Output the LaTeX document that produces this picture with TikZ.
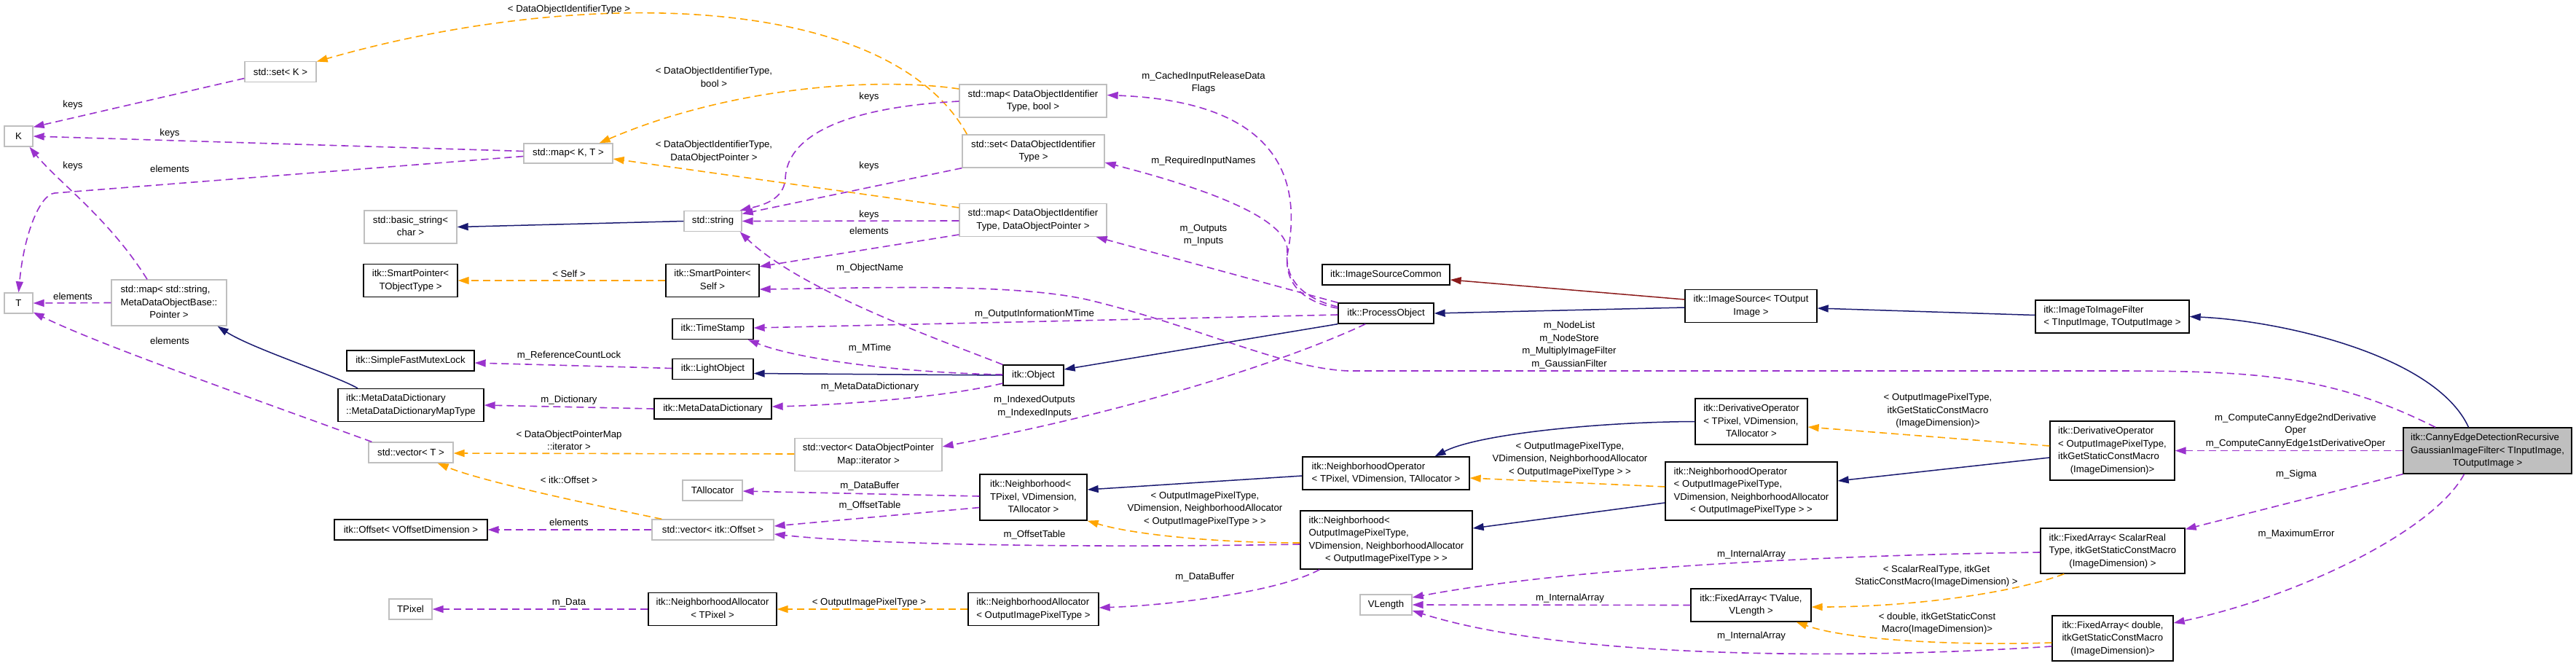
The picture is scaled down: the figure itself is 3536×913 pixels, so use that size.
\documentclass[tikz,border=0pt]{standalone}
\usepackage{fontspec}
\setmainfont{Liberation Sans}
\usepackage{xcolor}
\usepackage{tikz}
\usetikzlibrary{arrows.meta, calc}
\definecolor{inhblue}{HTML}{191970}
\definecolor{usepurple}{HTML}{9A32CD}
\definecolor{tmplorange}{HTML}{FFA500}
\definecolor{privred}{HTML}{8B1A1A}
\definecolor{grey75}{HTML}{BFBFBF}
\newcommand{\dgfont}{\fontsize{13.2pt}{17.5pt}\selectfont}
\newcommand{\clsname}[2]{\begin{tabular}{@{}l@{}}#1\\\multicolumn{1}{@{}c@{}}{#2}\end{tabular}}
\tikzstyle{docbox} = [rectangle, draw=black, line width=1.3pt, fill=white, text centered, inner sep=2pt, font=\dgfont]
\tikzstyle{extbox} = [docbox, draw=grey75]
\tikzstyle{mainbox} = [docbox, fill=grey75]
\tikzstyle{oneline} = [minimum height=28pt]
\tikzstyle{twolines} = [minimum height=45pt]
\tikzstyle{threelines} = [minimum height=63pt]
\tikzstyle{fourlines} = [minimum height=80pt]
\tikzstyle{inheritline} = [draw=inhblue, line width=1.5pt, -{Triangle[length=15pt, width=10pt]}]
\tikzstyle{privline} = [inheritline, draw=privred]
\tikzstyle{usesline} = [draw=usepurple, line width=1.6pt, dash pattern=on 10pt off 6pt, -{Triangle[length=15pt, width=10pt]}]
\tikzstyle{tmplline} = [usesline, draw=tmplorange]
\tikzstyle{lbl} = [font=\dgfont, align=center, inner sep=0pt]

\begin{document}
\begin{tikzpicture}[x=1pt, y=-1pt]
    \fill [white] (0,0) rectangle (3536,913);
    \useasboundingbox (0,0) rectangle (3536,913);

    % classes without documentation
    \node (setK) [extbox, oneline, minimum width=98pt] at (385,98.5) {std::set< K >};
    \node (K) [extbox, oneline, minimum width=39pt] at (25.5,187) {K};
    \node (mapKT) [extbox, oneline, minimum width=122pt, minimum height=27pt] at (780,210.5) {std::map< K, T >};
    \node (basicstr) [extbox, twolines, minimum width=127pt] at (563.5,311.5) {\clsname{std::basic\_string<}{char >}};
    \node (T) [extbox, oneline, minimum width=39pt] at (25.5,416) {T};
    \node (metamap) [extbox, threelines, minimum width=158pt] at (232,415.5) {\clsname{std::map< std::string,\\MetaDataObjectBase::}{Pointer >}};
    \node (vecT) [extbox, oneline, minimum width=116pt] at (564,621) {std::vector< T >};
    \node (tpixel) [extbox, oneline, minimum width=59pt] at (563.5,836) {TPixel};
    \node (map1) [extbox, twolines, minimum width=202pt] at (1418,138.5) {\clsname{std::map< DataObjectIdentifier}{Type, bool >}};
    \node (set1) [extbox, twolines, minimum width=195pt] at (1418.5,207.5) {\clsname{std::set< DataObjectIdentifier}{Type >}};
    \node (stdstr) [extbox, oneline, minimum width=79pt] at (978.5,303.5) {std::string};
    \node (map2) [extbox, twolines, minimum width=202pt] at (1418,302) {\clsname{std::map< DataObjectIdentifier}{Type, DataObjectPointer >}};
    \node (vecDOP) [extbox, twolines, minimum width=202pt] at (1192,624) {\clsname{std::vector< DataObjectPointer}{Map::iterator >}};
    \node (talloc) [extbox, oneline, minimum width=82pt] at (978,673) {TAllocator};
    \node (vecOff) [extbox, oneline, minimum width=167pt] at (978.5,727) {std::vector< itk::Offset >};
    \node (vlength) [extbox, oneline, minimum width=71pt] at (1902.5,830) {VLength};

    % documented classes
    \node (spT) [docbox, twolines, minimum width=129pt] at (563.5,385) {\clsname{itk::SmartPointer<}{TObjectType >}};
    \node (sfml) [docbox, oneline, minimum width=175pt] at (563.5,495) {itk::SimpleFastMutexLock};
    \node (mdmap) [docbox, twolines, minimum width=200pt] at (564,556) {\clsname{itk::MetaDataDictionary}{::MetaDataDictionaryMapType}};
    \node (offset) [docbox, oneline, minimum width=210pt] at (564,727) {itk::Offset< VOffsetDimension >};
    \node (spSelf) [docbox, twolines, minimum width=128pt] at (978,385) {\clsname{itk::SmartPointer<}{Self >}};
    \node (tstamp) [docbox, oneline, minimum width=111pt] at (978.5,451.5) {itk::TimeStamp};
    \node (lightobj) [docbox, oneline, minimum width=111pt] at (978.5,506.5) {itk::LightObject};
    \node (mdd) [docbox, oneline, minimum width=161pt] at (978.5,561) {itk::MetaDataDictionary};
    \node (na1) [docbox, twolines, minimum width=176pt] at (978,836) {\clsname{itk::NeighborhoodAllocator}{< TPixel >}};
    \node (object) [docbox, oneline, minimum width=83pt] at (1418.5,515) {itk::Object};
    \node (nbhd1) [docbox, threelines, minimum width=147pt] at (1418.5,682.5) {\clsname{itk::Neighborhood<\\TPixel, VDimension,}{TAllocator >}};
    \node (na2) [docbox, twolines, minimum width=179pt] at (1418.5,836) {\clsname{itk::NeighborhoodAllocator}{< OutputImagePixelType >}};
    \node (isc) [docbox, oneline, minimum width=175pt] at (1902.5,377) {itk::ImageSourceCommon};
    \node (procobj) [docbox, oneline, minimum width=131pt] at (1902.5,430) {itk::ProcessObject};
    \node (nbop1) [docbox, twolines, minimum width=229pt] at (1902.5,649.5) {\clsname{itk::NeighborhoodOperator}{< TPixel, VDimension, TAllocator >}};
    \node (nbhd2) [docbox, fourlines, minimum width=236pt] at (1903,741) {\clsname{itk::Neighborhood<\\OutputImagePixelType,\\VDimension, NeighborhoodAllocator}{< OutputImagePixelType > >}};
    \node (imgsrc) [docbox, twolines, minimum width=181pt] at (2403.5,420) {\clsname{itk::ImageSource< TOutput}{Image >}};
    \node (derivop1) [docbox, threelines, minimum width=154pt] at (2404,578.5) {\clsname{itk::DerivativeOperator\\< TPixel, VDimension,}{TAllocator >}};
    \node (nbop2) [docbox, fourlines, minimum width=236pt] at (2404,674) {\clsname{itk::NeighborhoodOperator\\< OutputImagePixelType,\\VDimension, NeighborhoodAllocator}{< OutputImagePixelType > >}};
    \node (fa1) [docbox, twolines, minimum width=165pt] at (2403.5,830.5) {\clsname{itk::FixedArray< TValue,}{VLength >}};
    \node (i2i) [docbox, twolines, minimum width=211pt] at (2899.5,434.5) {\clsname{itk::ImageToImageFilter}{< TInputImage, TOutputImage >}};
    \node (derivop2) [docbox, fourlines, minimum width=171pt, minimum height=81pt] at (2899.5,618.5) {\clsname{itk::DerivativeOperator\\< OutputImagePixelType,\\itkGetStaticConstMacro}{(ImageDimension)>}};
    \node (fa2) [docbox, threelines, minimum width=198pt, minimum height=62pt] at (2900,756) {\clsname{itk::FixedArray< ScalarReal\\Type, itkGetStaticConstMacro}{(ImageDimension) >}};
    \node (fa3) [docbox, threelines, minimum width=166pt, minimum height=62pt] at (2900,876) {\clsname{itk::FixedArray< double,\\itkGetStaticConstMacro}{(ImageDimension)>}};
    \node (main) [mainbox, threelines, minimum width=231pt] at (3414.5,618.5) {\clsname{itk::CannyEdgeDetectionRecursive\\GaussianImageFilter< TInputImage,}{TOutputImage >}};

    % inheritance
    \draw [inheritline] ($(main.north)+(-26,0)$) .. controls (3343,487) and (3130,440) .. (i2i.east);
    \draw [inheritline] ($(i2i.west)+(0,-2)$) -- ($(imgsrc.east)+(0,3)$);
    \draw [inheritline] ($(imgsrc.west)+(0,2)$) -- (procobj.east);
    \draw [privline] ($(imgsrc.west)+(0,-9)$) -- ($(isc.east)+(0,7)$);
    \draw [inheritline] (procobj.south west) -- ($(object.east)+(0,-8)$);
    \draw [inheritline] (object.west) -- ($(lightobj.east)+(0,6)$);
    \draw [inheritline] (stdstr.west) -- (basicstr.east);
    \draw [inheritline] ($(mdmap.north)+(-73,0)$) .. controls (460,515) and (345,478) .. ($(metamap.south east)+(-13,0)$);
    \draw [inheritline] ($(derivop2.west)+(0,9.5)$) -- ($(nbop2.east)+(0,-14)$);
    \draw [inheritline] (derivop1.west) .. controls (2200,579) and (2030,595) .. ($(nbop1.north)+(67,0)$);
    \draw [inheritline] ($(nbop2.west)+(0,16)$) -- ($(nbhd2.east)+(0,-16)$);
    \draw [inheritline] ($(nbop1.west)+(0,3.5)$) -- ($(nbhd1.east)+(0,-10.5)$);

    % template instances
    \draw [tmplline] ($(map1.west)+(0,-16.5)$) .. controls (1200,105) and (1000,120) .. ($(mapKT.north east)+(-19,0)$);
    \draw [tmplline] ($(set1.north west)+(7,0)$) .. controls (1220,-10) and (800,-20) .. ($(setK.east)+(0,-14)$);
    \draw [tmplline] ($(map2.west)+(0,-17)$) -- ($(mapKT.east)+(0,7.5)$);
    \draw [tmplline] (spSelf.west) -- (spT.east);
    \draw [tmplline] ($(vecDOP.west)+(0,-1)$) -- ($(vecT.east)+(0,1)$);
    \draw [tmplline] ($(vecOff.north west)+(14,0)$) .. controls (800,690) and (660,660) .. ($(vecT.south east)+(-22,0)$);
    \draw [tmplline] (na2.west) -- (na1.east);
    \draw [tmplline] ($(nbhd2.west)+(0,4)$) .. controls (1680,745) and (1560,735) .. (nbhd1.south east);
    \draw [tmplline] ($(nbop2.west)+(0,-6)$) -- ($(nbop1.east)+(0,6.5)$);
    \draw [tmplline] ($(derivop2.west)+(0,-6.5)$) -- ($(derivop1.east)+(0,7.5)$);
    \draw [tmplline] ($(fa2.south west)+(33,0)$) .. controls (2760,815) and (2620,833) .. ($(fa1.east)+(0,2.5)$);
    \draw [tmplline] ($(fa3.west)+(0,6)$) .. controls (2700,886) and (2540,880) .. ($(fa1.south east)+(-21,0)$);

    % members
    \draw [usesline] ($(setK.west)+(0,9)$) -- ($(K.north east)+(0,2)$);
    \draw [usesline] ($(mapKT.west)+(0,-3)$) -- (K.east);
    \draw [usesline] ($(mapKT.west)+(0,4)$) -- (75,265) .. controls (55,267) and (33,320) .. (T.north);
    \draw [usesline] ($(metamap.north)+(-30,0)$) .. controls (150,300) and (80,250) .. ($(K.south)+(15,0)$);
    \draw [usesline] (metamap.west) -- (T.east);
    \draw [usesline] ($(vecT.north west)+(5,0)$) .. controls (300,530) and (130,470) .. ($(T.south east)+(0,-2)$);
    \draw [usesline] ($(map1.west)+(0,0.5)$) .. controls (1150,148) and (1080,190) .. (1078,245) .. controls (1076,275) and (1045,282) .. ($(stdstr.north east)+(-3,0)$);
    \draw [usesline] (set1.south west) -- ($(stdstr.east)+(0,-10)$);
    \draw [usesline] ($(map2.west)+(0,1)$) -- (stdstr.east);
    \draw [usesline] ($(map2.west)+(0,20)$) -- ($(spSelf.north east)+(0,4)$);
    \draw [usesline] (object.north west) .. controls (1300,470) and (1100,400) .. ($(stdstr.south east)+(-3,0)$);
    \draw [usesline] ($(object.west)+(0,-1)$) .. controls (1250,512) and (1100,495) .. ($(tstamp.south east)+(-8,0)$);
    \draw [usesline] ($(object.west)+(0,11)$) .. controls (1300,545) and (1150,556) .. ($(mdd.east)+(0,-3)$);
    \draw [usesline] ($(lightobj.west)+(0,-1)$) -- ($(sfml.east)+(0,3)$);
    \draw [usesline] (mdd.west) -- (mdmap.east);
    \draw [usesline] (vecOff.west) -- (offset.east);
    \draw [usesline] ($(nbhd1.west)+(0,-1.5)$) -- ($(talloc.east)+(0,1)$);
    \draw [usesline] ($(nbhd1.west)+(0,14)$) -- ($(vecOff.east)+(0,-5)$);
    \draw [usesline] ($(nbhd2.west)+(0,6)$) .. controls (1500,752) and (1200,748) .. ($(vecOff.east)+(0,6)$);
    \draw [usesline] ($(nbhd2.south west)+(27,0)$) .. controls (1760,810) and (1620,830) .. ($(na2.east)+(0,-2)$);
    \draw [usesline] (na1.west) -- (tpixel.east);
    \draw [usesline] ($(procobj.west)+(0,-7)$) .. controls (1790,415) and (1763,390) .. (1767,350) .. controls (1785,260) and (1770,140) .. ($(map1.east)+(0,-8)$);
    \draw [usesline] ($(procobj.west)+(0,-9)$) .. controls (1790,410) and (1763,385) .. (1767,345) .. controls (1769,310) and (1700,270) .. ($(set1.east)+(0,15.5)$);
    \draw [usesline] (procobj.north west) -- ($(map2.south east)+(-15,0)$);
    \draw [usesline] ($(procobj.west)+(0,2)$) -- ($(tstamp.east)+(0,-1.5)$);
    \draw [usesline] ($(procobj.south west)+(38,0)$) .. controls (1800,480) and (1600,555) .. ($(vecDOP.east)+(0,-11)$);
    \draw [usesline] ($(main.north)+(-71.5,0)$) .. controls (3200,515) and (3100,509) .. (2900,509) -- (1850,509) .. controls (1760,505) and (1650,450) .. (1500,413) .. controls (1400,388) and (1200,395) .. ($(spSelf.east)+(0,12)$);
    \draw [usesline] (main.west) -- (derivop2.east);
    \draw [usesline] (main.south west) -- ($(fa2.north east)+(0,2)$);
    \draw [usesline] ($(main.south)+(-32,0)$) .. controls (3340,730) and (3150,820) .. ($(fa3.east)+(0,-21)$);
    \draw [usesline] ($(fa2.west)+(0,2)$) .. controls (2500,762) and (2150,780) .. ($(vlength.east)+(0,-10)$);
    \draw [usesline] (fa1.west) -- (vlength.east);
    \draw [usesline] ($(fa3.west)+(0,11)$) .. controls (2550,905) and (2150,905) .. ($(vlength.east)+(0,8)$);

    % connector labels
    \node (lSetKeys) [lbl] at (100,144) {keys};
    \node (lMapKeys) [lbl] at (233,183) {keys};
    \node (lMetaKeys) [lbl] at (100,228) {keys};
    \node (lMapElems) [lbl] at (233,232) {elements};
    \node (lMetaElems) [lbl] at (100,407) {elements};
    \node (lVecElems) [lbl] at (233,468) {elements};
    \node (lIdType) [lbl] at (781,13) {< DataObjectIdentifierType >};
    \node (lSelf) [lbl] at (781,376) {< Self >};
    \node (lRefLock) [lbl] at (781,488) {m\_ReferenceCountLock};
    \node (lDict) [lbl] at (781,549) {m\_Dictionary};
    \node (lPtrMap) [lbl] at (781,604.5) {< DataObjectPointerMap\\::iterator >};
    \node (lOffsetT) [lbl] at (781,659) {< itk::Offset >};
    \node (lOffElems) [lbl] at (781,717) {elements};
    \node (lData) [lbl] at (781,827) {m\_Data};
    \node (lIdBool) [lbl] at (980,106) {< DataObjectIdentifierType,\\bool >};
    \node (lIdPtr) [lbl] at (980,208) {< DataObjectIdentifierType,\\DataObjectPointer >};
    \node (lKeys1) [lbl] at (1193,133) {keys};
    \node (lKeys2) [lbl] at (1193,228) {keys};
    \node (lKeys3) [lbl] at (1193,295) {keys};
    \node (lElems) [lbl] at (1193,317) {elements};
    \node (lObjName) [lbl] at (1194,368) {m\_ObjectName};
    \node (lMTime) [lbl] at (1194,478) {m\_MTime};
    \node (lMDD) [lbl] at (1194,531) {m\_MetaDataDictionary};
    \node (lBuf1) [lbl] at (1194,667) {m\_DataBuffer};
    \node (lOffTab1) [lbl] at (1194,694) {m\_OffsetTable};
    \node (lAllocT) [lbl] at (1193,827) {< OutputImagePixelType >};
    \node (lOutInfo) [lbl] at (1420,431) {m\_OutputInformationMTime};
    \node (lIndexed) [lbl] at (1420,558) {m\_IndexedOutputs\\m\_IndexedInputs};
    \node (lOffTab2) [lbl] at (1420,734) {m\_OffsetTable};
    \node (lCached) [lbl] at (1652,113.5) {m\_CachedInputReleaseData\\Flags};
    \node (lReqIn) [lbl] at (1652,221) {m\_RequiredInputNames};
    \node (lInOut) [lbl] at (1652,323) {m\_Outputs\\m\_Inputs};
    \node (lNbhdT) [lbl] at (1654,698.5) {< OutputImagePixelType,\\VDimension, NeighborhoodAllocator\\< OutputImagePixelType > >};
    \node (lBuf2) [lbl] at (1654,792) {m\_DataBuffer};
    \node (lNodes) [lbl] at (2154,473.5) {m\_NodeList\\m\_NodeStore\\m\_MultiplyImageFilter\\m\_GaussianFilter};
    \node (lNbopT) [lbl] at (2155,630.5) {< OutputImagePixelType,\\VDimension, NeighborhoodAllocator\\< OutputImagePixelType > >};
    \node (lArr2) [lbl] at (2155,821) {m\_InternalArray};
    \node (lArr1) [lbl] at (2404,761) {m\_InternalArray};
    \node (lArr3) [lbl] at (2404,873) {m\_InternalArray};
    \node (lDerivT) [lbl] at (2660,564) {< OutputImagePixelType,\\itkGetStaticConstMacro\\(ImageDimension)>};
    \node (lScalarT) [lbl] at (2658,790.5) {< ScalarRealType, itkGet\\StaticConstMacro(ImageDimension) >};
    \node (lDoubleT) [lbl] at (2659,855.5) {< double, itkGetStaticConst\\Macro(ImageDimension)>};
    \node (lOpers) [lbl] at (3151,591.5) {m\_ComputeCannyEdge2ndDerivative\\Oper\\m\_ComputeCannyEdge1stDerivativeOper};
    \node (lSigma) [lbl] at (3152,651) {m\_Sigma};
    \node (lMaxErr) [lbl] at (3152,733) {m\_MaximumError};
\end{tikzpicture}
\end{document}
